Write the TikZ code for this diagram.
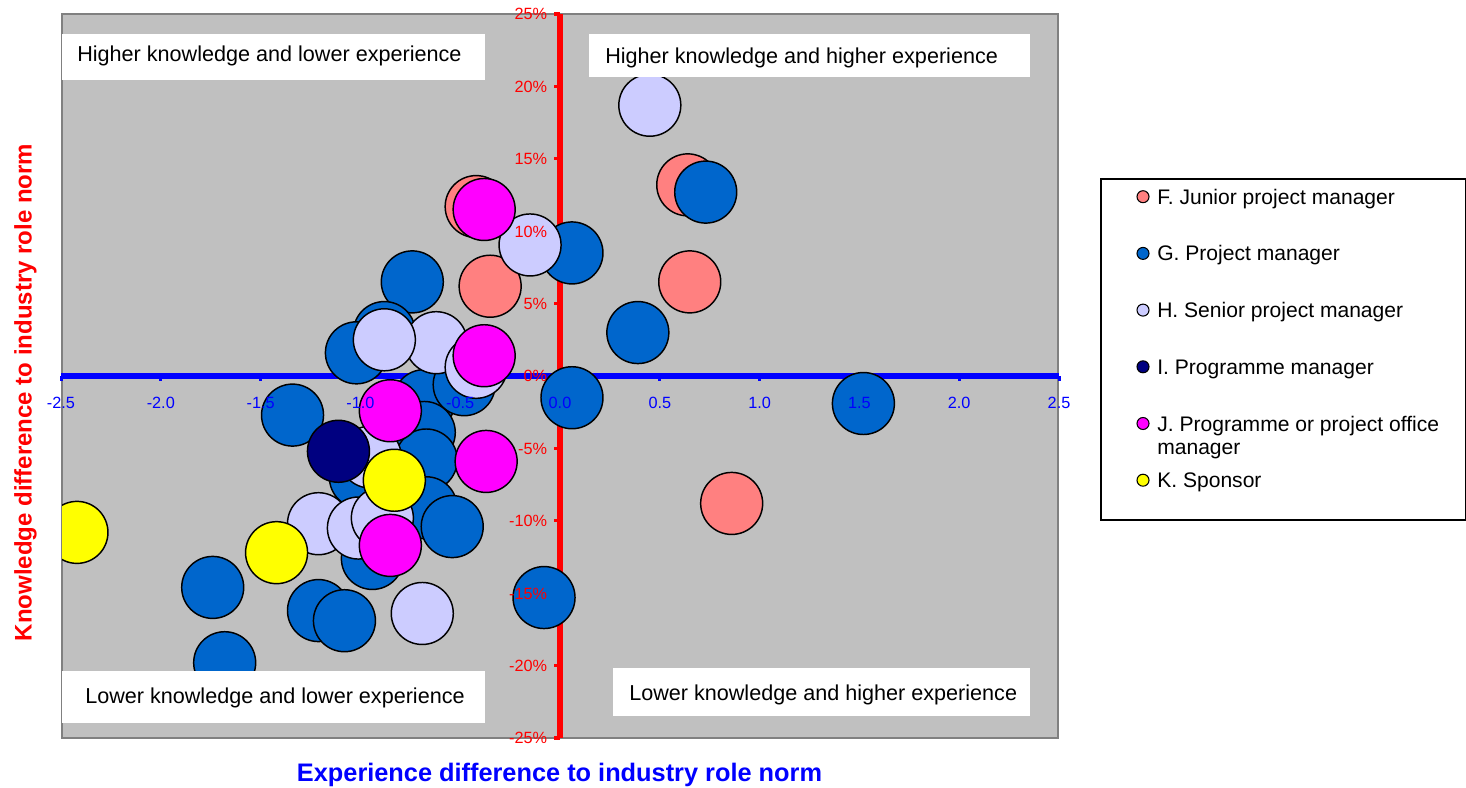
\documentclass[tikz,border=0pt]{standalone}
\usepackage{fontspec}
\setmainfont{Liberation Sans}
\usepackage{tikz}
\usetikzlibrary{positioning}
\usepackage{xcolor}
\definecolor{plotbg}{HTML}{C0C0C0}
\definecolor{plotedge}{HTML}{808080}
\definecolor{cjunior}{HTML}{FF8080}
\definecolor{cpm}{HTML}{0066CC}
\definecolor{csenior}{HTML}{CCCCFF}
\definecolor{cprog}{HTML}{000080}
\definecolor{coffice}{HTML}{FF00FF}
\definecolor{csponsor}{HTML}{FFFF00}
\definecolor{axisblue}{HTML}{0000FF}
\definecolor{axisred}{HTML}{FF0000}

\begin{document}
\begin{tikzpicture}[
    x=0.75pt, y=-0.75pt,
    bubble/.style={draw=black, line width=1.1pt},
    quadlbl/.style={anchor=base west, inner sep=0pt, font=\fontsize{16.2}{19}\selectfont},
    xticklbl/.style={anchor=base, inner sep=0pt, text=axisblue, font=\fontsize{12.2}{14}\selectfont},
    yticklbl/.style={anchor=base east, inner sep=0pt, text=axisred, font=\fontsize{12.2}{14}\selectfont},
    legtxt/.style={anchor=base west, inner sep=0pt, font=\fontsize{15.8}{18}\selectfont}
]
\useasboundingbox (0,0) rectangle (1466,788);

\draw[plotedge, line width=1pt, fill=plotbg] (62,14) rectangle (1058,738);

\begin{scope}[shift={(560,376)}, x=149.7pt, y=10.86pt]
\draw[axisblue, line width=4.5pt] (-2.5,0) -- (2.5,0);
\foreach \v in {-2.5,-2.0,-1.5,-1.0,-0.5,0.0,0.5,1.0,1.5,2.0,2.5}
    \draw[axisblue, line width=2.25pt] (\v,0) -- ++(0,-4pt);
\draw[axisred, line width=4pt] (0,-25) -- (0,25);
\foreach \p in {-25,-20,...,25}
    \draw[axisred, line width=2.5pt] (0,\p) -- ++(-4.5pt,0);
\end{scope}

\begin{scope}
\clip (62,14) rectangle (1058,738);
\begin{scope}[shift={(560,376)}, x=149.7pt, y=10.86pt]
\foreach \bx/\by in {-0.42/11.7, -0.35/6.2, 0.64/13.2, 0.65/6.5, 0.86/-8.8}
    \draw[bubble, fill=cjunior] (\bx,\by) circle[radius=23.25pt];
\foreach \bx/\by in {-0.68/-1.7, 0.06/8.5, -0.74/6.5, -0.88/3.0, -1.02/1.6, -1.34/-2.7,
    -0.48/-0.6, -0.68/-3.9, -0.67/-5.8, -1.0/-7.0, -0.67/-9.1, -0.54/-10.4, -0.94/-12.6,
    -1.21/-16.2, -1.08/-16.9, -1.74/-14.6, -1.68/-19.8, -0.08/-15.3, 0.06/-1.5,
    1.52/-1.9, 0.39/3.0, 0.73/12.7}
    \draw[bubble, fill=cpm] (\bx,\by) circle[radius=23.25pt];
\foreach \bx/\by in {-0.15/9.05, 0.45/18.7, -0.62/2.3, -0.88/2.5, -0.42/0.6, -0.95/-5.6,
    -1.21/-10.2, -1.01/-10.5, -0.89/-9.8, -0.69/-16.4}
    \draw[bubble, fill=csenior] (\bx,\by) circle[radius=23.25pt];
\draw[bubble, fill=cprog] (-1.11,-5.2) circle[radius=23.25pt];
\foreach \bx/\by in {-0.38/11.5, -0.38/1.4, -0.85/-2.4, -0.37/-5.9, -0.85/-11.7}
    \draw[bubble, fill=coffice] (\bx,\by) circle[radius=23.25pt];
\foreach \bx/\by in {-2.42/-10.8, -0.83/-7.2, -1.42/-12.2}
    \draw[bubble, fill=csponsor] (\bx,\by) circle[radius=23.25pt];
\end{scope}
\end{scope}

\fill[white] (62,34) rectangle (485,80);
\node[quadlbl] (hklo) at (77,61.7) {Higher knowledge and lower experience};
\fill[white] (589,34.5) rectangle (1030,77.5);
\node[quadlbl] (hkhi) at (605,64) {Higher knowledge and higher experience};
\fill[white] (62,671) rectangle (485,723);
\node[quadlbl] (lklo) at (85,703.3) {Lower knowledge and lower experience};
\fill[white] (613,668) rectangle (1030,716);
\node[quadlbl] (lkhi) at (629,700) {Lower knowledge and higher experience};

\begin{scope}[shift={(560,376)}, x=149.7pt, y=10.86pt]
\foreach \v [count=\i] in {-2.5,-2.0,-1.5,-1.0,-0.5,0.0,0.5,1.0,1.5,2.0,2.5}
    \node[xticklbl, yshift=-24pt] (xt\i) at (\v,0) {\v};
\foreach \p [count=\i] in {-25,-20,...,25}
    \node[yticklbl, xshift=-9.5pt, yshift=-4.35pt] (yt\i) at (0,\p) {\p\%};
\end{scope}

\node[anchor=base, inner sep=0pt, text=axisblue, font=\bfseries\fontsize{19}{22}\selectfont]
    (xtitle) at (559.5,781.5) {Experience difference to industry role norm};
\node[anchor=base, rotate=90, inner sep=0pt, text=axisred, font=\bfseries\fontsize{18}{21}\selectfont]
    (ytitle) at (31.7,392.5) {Knowledge difference to industry role norm};

\draw[black, line width=0.9pt] (1101,179) rectangle (1465.5,520);
\foreach \c/\t [count=\i from 0] in {cjunior/F. Junior project manager, cpm/G. Project manager,
    csenior/H. Senior project manager, cprog/I. Programme manager,
    coffice/J. Programme or project office, csponsor/K. Sponsor} {
    \draw[black, line width=0.8pt, fill=\c] (1143,196.7+56.7*\i) circle[radius=4.5pt];
    \node[legtxt] (leg\i) at (1157,204.2+56.7*\i) {\t};
}
\node[legtxt] (leg4b) at (1157,454.4) {manager};

\end{tikzpicture}
\end{document}
